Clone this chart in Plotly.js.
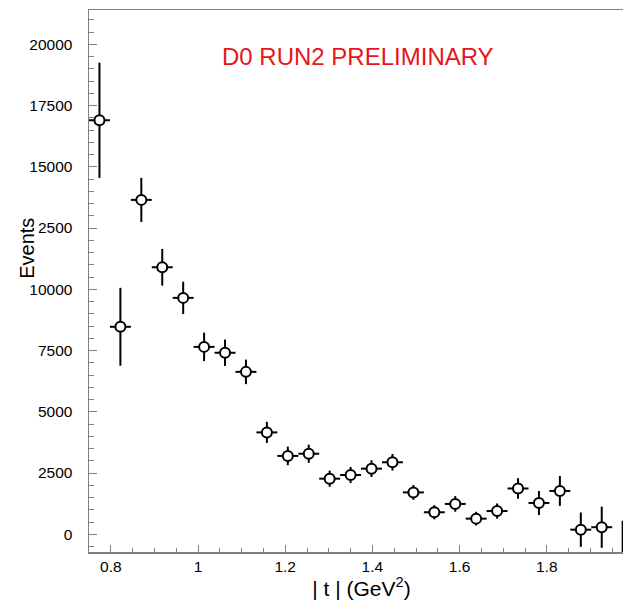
<!DOCTYPE html>
<html>
<head>
<meta charset="utf-8">
<script src="https://cdn.plot.ly/plotly-3.0.1.min.js"></script>
<style>
  html, body { margin: 0; padding: 0; overflow: hidden; background: #fff; }
  #plot { width: 640px; height: 600px; }
</style>
</head>
<body>
<div id="plot"></div>
<script>
// |t| bin centres (GeV^2), bin width 0.048
const tCentres = [0.774, 0.822, 0.870, 0.918, 0.966, 1.014, 1.062, 1.110, 1.158, 1.206,
                  1.254, 1.302, 1.350, 1.398, 1.446, 1.494, 1.542, 1.590, 1.638, 1.686,
                  1.734, 1.782, 1.830, 1.878, 1.926, 1.974];
const tHalfWidth = [0.024, 0.024, 0.024, 0.024, 0.024, 0.024, 0.024, 0.024, 0.024, 0.024,
                    0.024, 0.024, 0.024, 0.024, 0.024, 0.024, 0.024, 0.024, 0.024, 0.024,
                    0.024, 0.024, 0.024, 0.024, 0.024, 0.024];
// events per bin
const events = [16900, 8470, 13650, 10900, 9650, 7650, 7410, 6630, 4160, 3200,
                3290, 2270, 2420, 2680, 2940, 1710, 900, 1240, 640, 950,
                1870, 1280, 1770, 190, 290, -1000];
// statistical errors
const eventErrors = [2350, 1590, 900, 750, 660, 580, 540, 500, 430, 380,
                     370, 330, 330, 340, 340, 300, 290, 320, 280, 310,
                     420, 490, 610, 700, 840, 1555];

const xTickVals = [0.8, 1, 1.2, 1.4, 1.6, 1.8];
const xTickText = ['0.8', '1', '1.2', '1.4', '1.6', '1.8'];
const yTickVals = [0, 2500, 5000, 7500, 10000, 12500, 15000, 17500, 20000];
const yTickText = ['0', '2500', '5000', '7500', '10000', '12500', '15000', '17500', '20000'];

const axisGrey = '#808080';
const sans = 'Liberation Sans, Arial, sans-serif';
const labelFont = {family: sans, size: 15.5, color: '#000'};

const trace = {
  type: 'scatter',
  mode: 'markers',
  x: tCentres,
  y: events,
  error_x: {type: 'data', array: tHalfWidth, visible: true, color: '#000', thickness: 2, width: 0},
  error_y: {type: 'data', array: eventErrors, visible: true, color: '#000', thickness: 2, width: 0},
  marker: {symbol: 'circle', size: 10, color: '#fff', line: {color: '#000', width: 2}},
  cliponaxis: true,
  hoverinfo: 'x+y'
};

const layout = {
  width: 640,
  height: 600,
  margin: {l: 89, r: 6, t: 10, b: 48},
  paper_bgcolor: '#fff',
  plot_bgcolor: '#fff',
  showlegend: false,
  font: labelFont,
  xaxis: {
    range: [0.75, 2.0],
    tickmode: 'array',
    tickvals: xTickVals,
    ticktext: xTickText,
    ticks: 'inside',
    ticklen: 7,
    tickwidth: 1,
    tickcolor: axisGrey,
    ticklabelstandoff: 0,
    minor: {dtick: 0.05, tick0: 0.75, ticks: 'inside', ticklen: 4, tickcolor: axisGrey, tickwidth: 1},
    showline: true,
    linecolor: axisGrey,
    linewidth: 1.5,
    mirror: true,
    showgrid: false,
    zeroline: false,
    tickfont: labelFont,
    title: {text: '| t | (GeV<sup>2</sup>)', font: {family: sans, size: 21, color: '#000'}, standoff: 2},
    automargin: false
  },
  yaxis: {
    range: [-722, 21400],
    tickmode: 'array',
    tickvals: yTickVals,
    ticktext: yTickText,
    ticks: 'inside',
    ticklen: 8,
    tickwidth: 1,
    tickcolor: axisGrey,
    ticklabelstandoff: 12,
    minor: {dtick: 500, tick0: 0, ticks: 'inside', ticklen: 5, tickcolor: axisGrey, tickwidth: 1},
    showline: true,
    linecolor: axisGrey,
    linewidth: 1.5,
    mirror: true,
    showgrid: false,
    zeroline: false,
    tickfont: labelFont,
    automargin: false
  },
  annotations: [
    {
      text: 'Events',
      xref: 'paper', yref: 'paper',
      x: -0.114, y: 0.561,
      xanchor: 'center', yanchor: 'middle',
      textangle: -90,
      showarrow: false,
      bgcolor: '#fff',
      borderpad: 0,
      font: {family: sans, size: 20, color: '#000'}
    },
    {
      text: 'D0 RUN2 PRELIMINARY',
      xref: 'paper', yref: 'paper',
      x: 0.493, y: 0.915,
      xanchor: 'center', yanchor: 'middle',
      showarrow: false,
      font: {family: sans, size: 24, color: '#e8141a'}
    }
  ]
};

Plotly.newPlot('plot', [trace], layout, {displayModeBar: false, staticPlot: true});
</script>
</body>
</html>
